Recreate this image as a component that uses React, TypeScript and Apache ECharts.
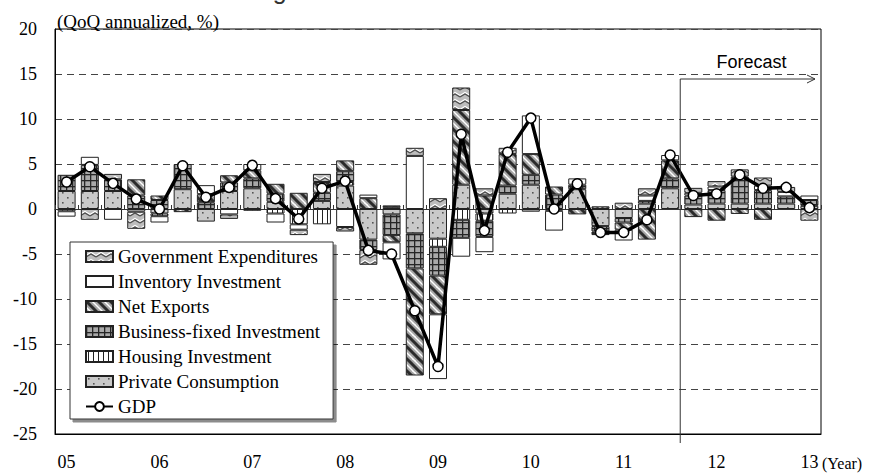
import { useEffect, useRef } from "react";
import * as echarts from "echarts";

// Quarters from 2005 Q1 to 2013 Q1
const quarters = [
  "05Q1", "05Q2", "05Q3", "05Q4",
  "06Q1", "06Q2", "06Q3", "06Q4",
  "07Q1", "07Q2", "07Q3", "07Q4",
  "08Q1", "08Q2", "08Q3", "08Q4",
  "09Q1", "09Q2", "09Q3", "09Q4",
  "10Q1", "10Q2", "10Q3", "10Q4",
  "11Q1", "11Q2", "11Q3", "11Q4",
  "12Q1", "12Q2", "12Q3", "12Q4",
  "13Q1",
];
const firstForecastQuarter = "11Q4";

// Contributions to growth (percentage points, QoQ annualized)
const privateConsumption = [
  2.0, 2.0, 2.0, -0.3, -0.5, 2.2, -1.4, 2.0, 2.3, 0.8, 0, 0.9,
  2.6, -3.4, -0.6, -2.7, -3.3, 2.7, -0.5, 1.7, 2.7, -0.2, 2.2, -1.9,
  -1.0, 0.6, 2.3, 0.5, 0.6, 0.6, 0.6, 0.6, 0.35,
];
const housingInvestment = [
  -0.25, 0, 0, 0, -0.3, 0, 0, 0, -0.2, -0.5, -1.7, -1.7,
  0.4, 0, 0.2, 0, -0.9, -1.2, -0.8, -0.5, 0, 0, 0, 0,
  0, 0, 0, 0, 0, 0, 0, 0, 0,
];
const businessInvestment = [
  1.8, 2.9, 1.3, 1.5, 1.0, 2.8, 0.75, 0.95, 1.1, 0.9, 0, 0.9,
  1.2, -1.15, -2.3, -3.9, -3.2, -2.0, -1.8, 0.9, 1.1, 1.6, 0.5, -0.6,
  -0.5, 0.3, 1.1, 1.0, 1.5, 3.0, 1.5, 0.8, 0.65,
];
const netExports = [
  0, 0, 0, 1.8, 0.5, -0.35, 0.9, 0.8, 0.9, 1.1, 1.8, 1.2,
  1.2, 1.2, -0.8, -11.9, -4.3, 8.3, 1.5, 3.5, 2.3, 0.9, -0.6, -0.4,
  -0.8, -3.4, 2.0, -0.9, -1.3, -0.55, -1.2, 0, 0,
];
const inventoryInvestment = [
  -0.6, 0.9, -1.2, 0, -0.7, 0, 1.0, -0.6, 0.7, -1.0, -0.6, 0,
  -2.0, 0.4, -1.9, 5.9, -7.2, -2.1, -1.7, 0, 4.3, -2.2, 0.7, 0,
  -1.2, 0.6, 0.6, 0.3, 0.4, 0, 0.5, 0.5, 0.5,
];
const governmentExpenditures = [
  0, -1.2, 0.6, -1.9, 0, 0, 0, -0.5, 0, 0, -0.6, 0.9,
  -0.5, -1.65, 0.2, 0.9, 1.2, 2.5, 0.8, 0.7, -0.3, 0, 0, 0.3,
  0.7, 0.8, 0, 0.55, 0.6, 0.8, 0.9, 0.55, -1.3,
];
const gdp = [
  3.0, 4.7, 2.85, 1.1, 0.0, 4.8, 1.3, 2.4, 4.85, 1.15, -1.1, 2.3,
  3.1, -4.6, -5.0, -11.3, -17.5, 8.3, -2.4, 6.3, 10.1, 0.0, 2.8, -2.6,
  -2.6, -1.2, 6.0, 1.5, 1.7, 3.8, 2.3, 2.4, 0.15,
];

const SERIF = "Liberation Serif";
const SANS = "Liberation Sans";

type Painter = (g: CanvasRenderingContext2D, w: number, h: number) => void;

// Builds a repeating image fill from a small painted tile
function tile(w: number, h: number, paint: Painter) {
  const c = document.createElement("canvas");
  c.width = w;
  c.height = h;
  const g = c.getContext("2d") as CanvasRenderingContext2D;
  paint(g, w, h);
  return { image: c.toDataURL(), repeat: "repeat", imageWidth: w, imageHeight: h };
}

function makeFills() {
  const dots = tile(10, 10, (g, w, h) => {
    g.fillStyle = "#c9c9c9";
    g.fillRect(0, 0, w, h);
    g.fillStyle = "#555";
    g.fillRect(2, 2, 1.6, 1.6);
    g.fillRect(7, 7, 1.6, 1.6);
  });
  const vertical = tile(5, 5, (g, w, h) => {
    g.fillStyle = "#fff";
    g.fillRect(0, 0, w, h);
    g.fillStyle = "#222";
    g.fillRect(2, 0, 1, h);
  });
  const grid = tile(6, 6, (g, w, h) => {
    g.fillStyle = "#a9a9a9";
    g.fillRect(0, 0, w, h);
    g.fillStyle = "#262626";
    g.fillRect(0, 0, 1.3, h);
    g.fillRect(0, 0, w, 1.3);
  });
  const stripes = tile(12, 12, (g, w, h) => {
    g.fillStyle = "#fff";
    g.fillRect(0, 0, w, h);
    for (const off of [-w, 0, w]) {
      g.strokeStyle = "#a6a6a6";
      g.lineWidth = 7;
      g.beginPath();
      g.moveTo(off - 2, -2);
      g.lineTo(off + w + 2, h + 2);
      g.stroke();
      g.strokeStyle = "#2b2b2b";
      g.lineWidth = 3;
      g.beginPath();
      g.moveTo(off - 2, -2);
      g.lineTo(off + w + 2, h + 2);
      g.stroke();
    }
  });
  const waves = tile(10, 7, (g, w, h) => {
    g.fillStyle = "#bdbdbd";
    g.fillRect(0, 0, w, h);
    g.lineWidth = 1.3;
    g.strokeStyle = "#fff";
    g.beginPath();
    g.moveTo(0, 4.5);
    g.lineTo(5, 1.5);
    g.lineTo(10, 4.5);
    g.stroke();
    g.strokeStyle = "#4d4d4d";
    g.beginPath();
    g.moveTo(0, 6);
    g.lineTo(5, 3);
    g.lineTo(10, 6);
    g.stroke();
  });
  return { dots, vertical, grid, stripes, waves };
}

export default function App() {
  const ref = useRef<HTMLDivElement>(null);

  useEffect(() => {
    if (!ref.current) return;
    const chart = echarts.init(ref.current, undefined, { renderer: "svg" });
    const fills = makeFills();

    const components = [
      { name: "Private Consumption", values: privateConsumption, fill: fills.dots },
      { name: "Housing Investment", values: housingInvestment, fill: fills.vertical },
      { name: "Business-fixed Investment", values: businessInvestment, fill: fills.grid },
      { name: "Net Exports", values: netExports, fill: fills.stripes },
      { name: "Inventory Investment", values: inventoryInvestment, fill: "#ffffff" },
      { name: "Government Expenditures", values: governmentExpenditures, fill: fills.waves },
    ];

    const barSeries = components.map((c) => ({
      name: c.name,
      type: "bar",
      stack: "gdp",
      xAxisIndex: 1,
      barWidth: 18,
      itemStyle: { color: c.fill, borderColor: "#222", borderWidth: 1 },
      emphasis: { disabled: true },
      data: c.values.map((v) => (v === 0 ? "-" : v)),
    }));

    const legendOrder = [
      "Government Expenditures",
      "Inventory Investment",
      "Net Exports",
      "Business-fixed Investment",
      "Housing Investment",
      "Private Consumption",
    ];

    chart.setOption({
      animation: false,
      grid: {
        left: 55,
        right: 50,
        top: 29,
        bottom: 39,
        show: true,
        borderColor: "#000",
        borderWidth: 1,
        outerBoundsMode: "none",
      },
      legend: {
        orient: "vertical",
        left: 70,
        top: 242,
        padding: [5, 13, 3, 15],
        itemGap: 6,
        itemWidth: 27,
        itemHeight: 11,
        selectedMode: false,
        backgroundColor: "#fff",
        borderColor: "#333",
        borderWidth: 1,
        shadowColor: "rgba(0,0,0,0.45)",
        shadowOffsetX: 3,
        shadowOffsetY: 3,
        shadowBlur: 0,
        textStyle: { fontFamily: SERIF, fontSize: 19, color: "#000" },
        data: [
          ...legendOrder.map((name) => ({ name, icon: "rect" })),
          { name: "GDP" },
        ],
      },
      xAxis: [
        {
          // zero line with quarter tick marks
          type: "category",
          data: quarters,
          position: "top",
          axisLine: { onZero: true, lineStyle: { color: "#333", width: 1 } },
          axisTick: { show: true, interval: 0, length: 4, lineStyle: { color: "#333" } },
          axisLabel: { show: false },
          splitLine: { show: false },
        },
        {
          type: "category",
          data: quarters,
          position: "bottom",
          axisLine: { onZero: false, lineStyle: { color: "#000", width: 1 } },
          axisTick: { show: false },
          axisLabel: {
            interval: 3,
            formatter: (v: string) => v.slice(0, 2),
            margin: 19,
            fontFamily: SERIF,
            fontSize: 18,
            color: "#000",
          },
          splitLine: { show: false },
        },
      ],
      yAxis: {
        type: "value",
        min: -25,
        max: 20,
        interval: 5,
        axisLine: { show: true, lineStyle: { color: "#000", width: 1 } },
        axisTick: { show: false },
        axisLabel: { margin: 18, fontFamily: SERIF, fontSize: 18, color: "#000" },
        splitLine: { show: true, lineStyle: { type: [7, 5], color: "#444", width: 1 } },
      },
      series: [
        ...barSeries,
        {
          name: "GDP",
          type: "line",
          xAxisIndex: 1,
          z: 5,
          data: gdp,
          symbol: "circle",
          symbolSize: 10,
          lineStyle: { color: "#000", width: 3.5 },
          itemStyle: { color: "#fff", borderColor: "#000", borderWidth: 1.5 },
          emphasis: { disabled: true },
        },
      ],
    });

    // Forecast marker and free texts placed from the axes
    const cx = (i: number) => chart.convertToPixel({ xAxisIndex: 1 }, i) as number;
    const cy = (v: number) => chart.convertToPixel({ yAxisIndex: 0 }, v) as number;
    const fi = quarters.indexOf(firstForecastQuarter);
    const band = cx(fi) - cx(fi - 1);
    const xSplit = cx(fi) - band / 2 - 1.5;
    const xEnd = cx(quarters.length - 1) + band / 2 - 6;
    const yArrow = cy(15) + 5;
    const yBottom = cy(-25) + 9;
    const leftEdge = cx(0) - band / 2;
    const rightEdge = cx(quarters.length - 1) + band / 2;

    const lineStyle = { stroke: "#333", lineWidth: 1, fill: "none" };
    chart.setOption({
      graphic: [
        {
          type: "text",
          x: 252,
          y: 2,
          silent: true,
          style: {
            text: "Figure 1 Real GDP Growth Rate",
            font: `25px ${SANS}`,
            fill: "#333",
            textAlign: "left",
            textVerticalAlign: "bottom",
          },
        },
        {
          type: "text",
          x: leftEdge + 2,
          y: cy(20) - 8,
          silent: true,
          style: {
            text: "(QoQ annualized, %)",
            font: `19px ${SERIF}`,
            fill: "#000",
            textAlign: "left",
            textVerticalAlign: "middle",
          },
        },
        {
          type: "text",
          x: rightEdge + 1,
          y: cy(-25) + 29,
          silent: true,
          style: {
            text: "(Year)",
            font: `16px ${SERIF}`,
            fill: "#000",
            textAlign: "left",
            textVerticalAlign: "middle",
          },
        },
        {
          type: "line",
          silent: true,
          shape: { x1: xSplit, y1: yArrow, x2: xSplit, y2: yBottom },
          style: lineStyle,
          z: 10,
        },
        {
          type: "line",
          silent: true,
          shape: { x1: xSplit, y1: yArrow, x2: xEnd, y2: yArrow },
          style: lineStyle,
          z: 10,
        },
        {
          type: "polyline",
          silent: true,
          shape: { points: [[xEnd - 8, yArrow - 4], [xEnd, yArrow], [xEnd - 8, yArrow + 4]] },
          style: lineStyle,
          z: 10,
        },
        {
          type: "text",
          x: (xSplit + xEnd) / 2 + 4,
          y: yArrow - 17,
          silent: true,
          style: {
            text: "Forecast",
            font: `18px ${SANS}`,
            fill: "#000",
            textAlign: "center",
            textVerticalAlign: "middle",
          },
          z: 10,
        },
      ],
    });

    return () => chart.dispose();
  }, []);

  return (
    <div
      ref={ref}
      style={{ position: "fixed", left: 0, top: 0, width: 871, height: 473, background: "#fff" }}
    />
  );
}
